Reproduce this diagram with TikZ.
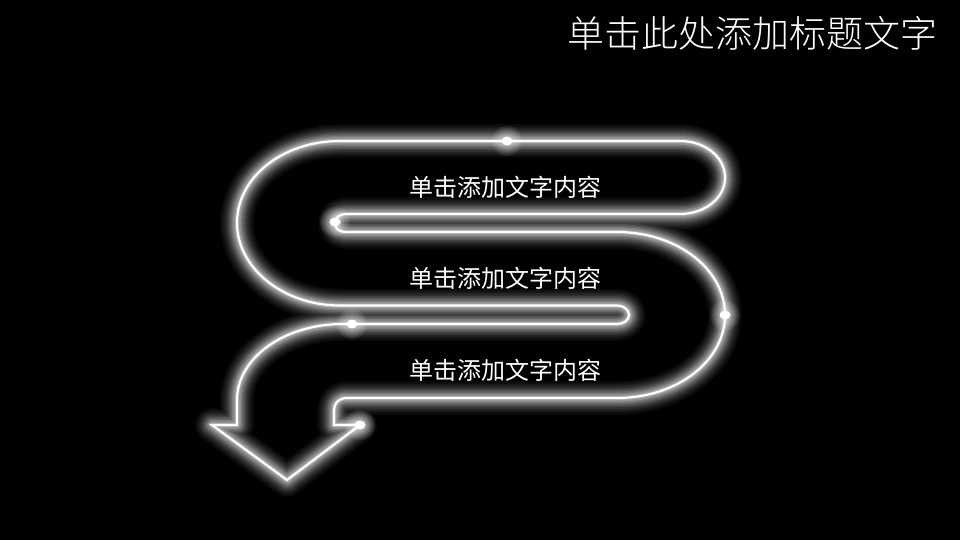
\documentclass[tikz,border=0pt]{standalone}
\usepackage{fontspec}
\setmainfont{Noto Sans CJK SC}
\newfontfamily\cjktitle{Noto Sans CJK SC Light}
\def\neonpath{(360,425) -- (287,480) -- (212,425) -- (237,425) -- (237,400)
  .. controls (237,358) and (284,324) .. (343,324) -- (617,324)
  .. controls (624,324) and (629,320) .. (629,315)
  .. controls (629,310) and (624,305.5) .. (617,305.5) -- (340,305.5)
  .. controls (283,305.5) and (237,268) .. (237,223)
  .. controls (237,177) and (283,141) .. (340,141) -- (680,141)
  .. controls (705,141) and (725,157) .. (725,177.5)
  .. controls (725,198) and (705,214) .. (680,214) -- (345,214)
  .. controls (339,214) and (335,219) .. (335,223)
  .. controls (335,228) and (339,232) .. (345,232) -- (617,232)
  .. controls (677,232) and (725,269) .. (725,315)
  .. controls (725,361) and (677,398) .. (617,398) -- (347,398)
  .. controls (339,398) and (334,403) .. (334,410) -- (334,425) -- cycle}
\tikzset{
  x=1pt,y=-1pt,
  glowline/.style={draw=white,line join=round},
  coreline/.style={draw=white,line join=miter,miter limit=4,line width=2.2pt},
  spark/.style={ellipse,fill=white,inner sep=0pt,minimum width=11pt,minimum height=9pt},
  sparkglow/.style={circle,fill=white,inner sep=0pt,minimum size=#1,opacity=0.09},
  bodytext/.style={text=white,font=\fontsize{24}{24}\selectfont,inner sep=0pt,anchor=center},
  titletext/.style={text=white,font=\cjktitle\fontsize{37}{37}\selectfont,inner sep=0pt,anchor=east}
}
\usetikzlibrary{shapes.geometric}
\begin{document}
\begin{tikzpicture}
\fill[black] (0,0) rectangle (960,540);
\useasboundingbox (0,0) rectangle (960,540);
\foreach \w/\o in {34/0.03,31/0.035,28/0.04,25/0.05,22/0.06,19/0.08,16/0.1,13/0.12,10/0.15,7/0.18,4/0.22}{
  \path[glowline,line width=\w pt,draw opacity=\o] \neonpath;
}
\path[coreline] \neonpath;
\foreach \n/\cx/\cy in {a/507/141,b/335/222,c/725/315,d/352/324,e/360/425}{
  \foreach \s in {30,26,22,18,14}{\node[sparkglow=\s pt] at (\cx,\cy) {};}
  \node[spark] (dot\n) at (\cx,\cy) {};
}
\node[bodytext] (t1) at (505,187) {单击添加文字内容};
\node[bodytext] (t2) at (505,278) {单击添加文字内容};
\node[bodytext] (t3) at (505,370) {单击添加文字内容};
\node[titletext] (title) at (938,33) {单击此处添加标题文字};
\end{tikzpicture}
\end{document}
